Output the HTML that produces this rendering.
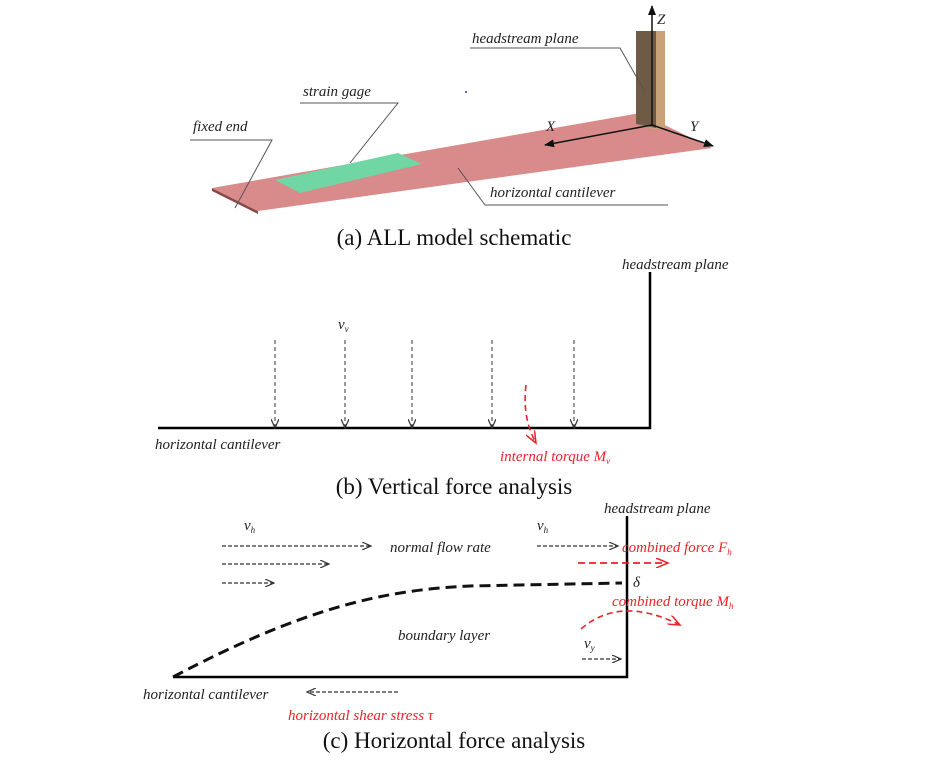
<!DOCTYPE html>
<html><head><meta charset="utf-8"><style>
html,body{margin:0;padding:0;background:#fff;width:948px;height:762px;overflow:hidden}
svg{display:block}
.lb{font-family:"Liberation Serif",serif;font-style:italic;font-size:15px;fill:#222}
.cap{font-family:"Liberation Serif",serif;font-size:23px;fill:#111}
.red{fill:#e8232a}
</style></head><body>
<svg width="948" height="762" viewBox="0 0 948 762">
<defs>
<marker id="ah" markerWidth="10" markerHeight="8" refX="8" refY="4" orient="auto" markerUnits="userSpaceOnUse"><path d="M0,0 L9,4 L0,8" fill="none" stroke="#333" stroke-width="1.2"/></marker>
<marker id="ahr" markerWidth="14" markerHeight="10" refX="12" refY="5" orient="auto" markerUnits="userSpaceOnUse"><path d="M0,0 L12,5 L0,10" fill="none" stroke="#e8232a" stroke-width="1.5"/></marker>
<marker id="ahk" markerWidth="10" markerHeight="8" refX="9" refY="4" orient="auto" markerUnits="userSpaceOnUse"><path d="M0,0 L10,4 L0,8 Z" fill="#111"/></marker>
</defs>

<!-- (a) -->
<g>
<polygon points="212,188 258,211 258,214 212,191" fill="#8a4a4a"/>
<polygon points="212,188 640,113 712,148 258,211" fill="#d98a8a"/>
<polygon points="275,180 398,153 422,164 300,193" fill="#6fd6a4"/>
<rect x="650" y="31" width="15" height="98" fill="#c9a27a"/>
<polygon points="636,31 656,31 656,128 636,124" fill="#6e5a45"/>
<line x1="652" y1="125" x2="652" y2="6" stroke="#111" stroke-width="1.5" marker-end="url(#ahk)"/>
<line x1="652" y1="125" x2="545" y2="145" stroke="#111" stroke-width="1.5" marker-end="url(#ahk)"/>
<line x1="652" y1="125" x2="713" y2="146" stroke="#111" stroke-width="1.5" marker-end="url(#ahk)"/>
<text class="lb" x="657" y="24">Z</text>
<text class="lb" x="546" y="131">X</text>
<text class="lb" x="690" y="131">Y</text>
<text class="lb" x="472" y="43">headstream plane</text>
<polyline points="470,48 620,48 645,92" fill="none" stroke="#555" stroke-width="1"/>
<text class="lb" x="303" y="96">strain gage</text>
<polyline points="300,103 398,103 350,163" fill="none" stroke="#555" stroke-width="1"/>
<text class="lb" x="193" y="131">fixed end</text>
<polyline points="190,140 272,140 235,208" fill="none" stroke="#555" stroke-width="1"/>
<text class="lb" x="490" y="197">horizontal cantilever</text>
<polyline points="458,168 485,205 668,205" fill="none" stroke="#555" stroke-width="1"/>
<circle cx="466" cy="92" r="1" fill="#33c"/>
<text class="cap" x="454" y="245" text-anchor="middle">(a) ALL model schematic</text>
</g>

<!-- (b) -->
<g>
<polyline points="158,428 650,428 650,272" fill="none" stroke="#000" stroke-width="2.5"/>
<text class="lb" x="622" y="269">headstream plane</text>
<text class="lb" x="338" y="329">v<tspan font-size="9" dy="3">v</tspan></text>
<g stroke="#333" stroke-width="1" stroke-dasharray="4,3" fill="none">
<line x1="275" y1="340" x2="275" y2="427" marker-end="url(#ah)"/>
<line x1="345" y1="340" x2="345" y2="427" marker-end="url(#ah)"/>
<line x1="412" y1="340" x2="412" y2="427" marker-end="url(#ah)"/>
<line x1="492" y1="340" x2="492" y2="427" marker-end="url(#ah)"/>
<line x1="574" y1="340" x2="574" y2="427" marker-end="url(#ah)"/>
</g>
<path d="M526,385 Q522,418 536,443" fill="none" stroke="#e8232a" stroke-width="1.6" stroke-dasharray="6,4" marker-end="url(#ahr)"/>
<text class="lb" x="155" y="449">horizontal cantilever</text>
<text class="lb red" x="500" y="461">internal torque M<tspan font-size="9" dy="3">v</tspan></text>
<text class="cap" x="454" y="494" text-anchor="middle">(b) Vertical force analysis</text>
</g>

<!-- (c) -->
<g>
<polyline points="173,677 627,677 627,516" fill="none" stroke="#000" stroke-width="2.5"/>
<text class="lb" x="604" y="513">headstream plane</text>
<text class="lb" x="244" y="530">v<tspan font-size="9" dy="3">h</tspan></text>
<text class="lb" x="537" y="530">v<tspan font-size="9" dy="3">h</tspan></text>
<g stroke="#333" stroke-width="1.2" stroke-dasharray="4,2" fill="none">
<line x1="222" y1="546" x2="370" y2="546" marker-end="url(#ah)"/>
<line x1="222" y1="564" x2="328" y2="564" marker-end="url(#ah)"/>
<line x1="222" y1="583" x2="273" y2="583" marker-end="url(#ah)"/>
<line x1="537" y1="546" x2="617" y2="546" marker-end="url(#ah)"/>
<line x1="582" y1="659" x2="620" y2="659" marker-end="url(#ah)"/>
<line x1="398" y1="692" x2="308" y2="692" marker-end="url(#ah)"/>
</g>
<text class="lb" x="390" y="552">normal flow rate</text>
<text class="lb red" x="622" y="552">combined force F<tspan font-size="9" dy="3">h</tspan></text>
<line x1="578" y1="563" x2="668" y2="563" stroke="#e8232a" stroke-width="1.8" stroke-dasharray="7,4" marker-end="url(#ahr)"/>
<text class="lb" x="633" y="587" font-size="17">δ</text>
<path d="M173,677 C300,610 380,590 470,586 L622,583" fill="none" stroke="#111" stroke-width="3" stroke-dasharray="11,6"/>
<text class="lb red" x="612" y="606">combined torque M<tspan font-size="9" dy="3">h</tspan></text>
<path d="M581,629 Q620,595 680,625" fill="none" stroke="#e8232a" stroke-width="1.6" stroke-dasharray="6,4" marker-end="url(#ahr)"/>
<text class="lb" x="398" y="640">boundary layer</text>
<text class="lb" x="584" y="648">v<tspan font-size="9" dy="3">y</tspan></text>
<text class="lb" x="143" y="699">horizontal cantilever</text>
<text class="lb red" x="288" y="720">horizontal shear stress τ</text>
<text class="cap" x="454" y="748" text-anchor="middle">(c) Horizontal force analysis</text>
</g>
</svg>
</body></html>
